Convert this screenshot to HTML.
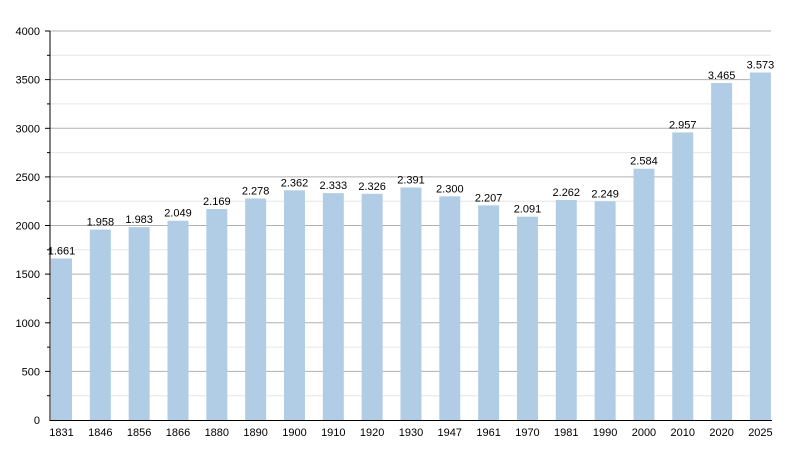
<!DOCTYPE html><html><head><style>body{margin:0;background:#fff}svg{display:block;font-family:"Liberation Sans",sans-serif}</style></head><body>
<svg width="800" height="450" xmlns="http://www.w3.org/2000/svg" id="s"></svg>
<script>
const d=[[1831,1661],[1846,1958],[1856,1983],[1866,2049],[1880,2169],[1890,2278],[1900,2362],[1910,2333],[1920,2326],[1930,2391],[1947,2300],[1961,2207],[1970,2091],[1981,2262],[1990,2249],[2000,2584],[2010,2957],[2020,3465],[2025,3573]];
const y0=420,y1=31,k=(y0-y1)/4000;let h='';
for(let v=250;v<=4000;v+=250){const y=(y0-v*k).toFixed(1);const major=v%500==0;
h+=`<line x1="50" x2="771" y1="${y}" y2="${y}" stroke="${major?'#b0b0b0':'#e6e6e6'}" stroke-width="1"/>`;
h+=`<line x1="${major?45:47}" x2="50" y1="${y}" y2="${y}" stroke="#000"/>`;
if(major)h+=`<text x="40" y="${+y+4}" font-size="11" text-anchor="end">${v}</text>`;}
h+=`<text x="40" y="424" font-size="11" text-anchor="end">0</text>`;
d.forEach((p,i)=>{const x=51+i*38.83,t=y0-p[1]*k;
h+=`<rect x="${x}" y="${t}" width="21" height="${y0-t}" fill="#b1cde6"/>`;
h+=`<text x="${x+10.5}" y="${t-4}" font-size="11" text-anchor="middle">${(p[1]/1000).toFixed(3)}</text>`;
h+=`<text x="${x+10.5}" y="436" font-size="11" text-anchor="middle">${p[0]}</text>`;});
h+=`<line x1="50" x2="50" y1="31" y2="421" stroke="#000"/><line x1="50" x2="772" y1="420.5" y2="420.5" stroke="#000"/>`;
document.getElementById('s').innerHTML=h;
</script></body></html>
